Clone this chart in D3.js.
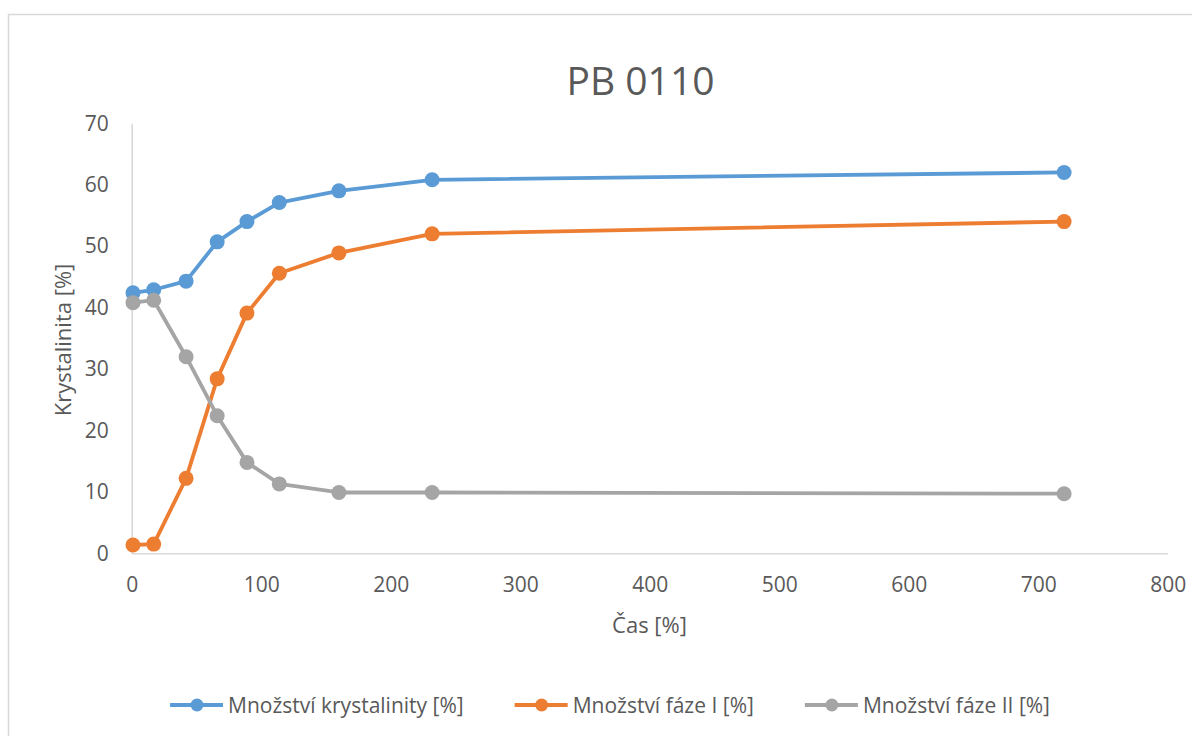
<!DOCTYPE html>
<html>
<head>
<meta charset="utf-8">
<script src="https://cdn.jsdelivr.net/npm/d3@7"></script>
<style>
  html, body { margin: 0; padding: 0; background: #fff; }
  svg { display: block; }
  text { font-family: "Open Sans", "Noto Sans", sans-serif; fill: #595959; }
</style>
</head>
<body>
<svg id="chart" width="1192" height="736"></svg>
<script>
// Time points (x) and the three measured series
const times = [1, 17, 42, 66, 89, 114, 160, 232, 720];
const krystalinita = [42.4, 42.9, 44.3, 50.7, 54.0, 57.1, 59.0, 60.8, 62.0];
const fazeI = [1.35, 1.5, 12.2, 28.4, 39.1, 45.6, 48.9, 52.0, 54.0];
const fazeII = [40.8, 41.2, 32.0, 22.4, 14.8, 11.3, 9.9, 9.9, 9.7];

const seriesNames = ["Množství krystalinity [%]", "Množství fáze I [%]", "Množství fáze II [%]"];
const seriesColors = ["#5B9BD5", "#ED7D31", "#A5A5A5"];
const xTicks = [0, 100, 200, 300, 400, 500, 600, 700, 800];
const yTicks = [0, 10, 20, 30, 40, 50, 60, 70];

const title = "PB 0110";
const xTitle = "Čas [%]";
const yTitle = "Krystalinita [%]";

const svg = d3.select("#chart");

// chart frame
svg.append("rect")
  .attr("x", 8.5).attr("y", 14.5)
  .attr("width", 1200).attr("height", 740)
  .attr("fill", "#fff").attr("stroke", "#D9D9D9").attr("stroke-width", 1.5);

const x = d3.scaleLinear().domain([0, 800]).range([131.7, 1167.7]);
const y = d3.scaleLinear().domain([0, 70]).range([553.3, 123.3]);

// axes
const xAxis = svg.append("g")
  .attr("transform", `translate(0,${y(0)})`)
  .call(d3.axisBottom(x).tickValues(xTicks).tickSize(0).tickPadding(24).tickFormat(d3.format("d")));
const yAxis = svg.append("g")
  .attr("transform", `translate(${x(0)},0)`)
  .call(d3.axisLeft(y).tickValues(yTicks).tickSize(0).tickPadding(23).tickFormat(d3.format("d")));

[xAxis, yAxis].forEach(g => {
  g.select(".domain").attr("stroke", "#D9D9D9").attr("stroke-width", 1.6);
  g.selectAll(".tick text")
    .attr("fill", "#595959")
    .style("font-family", '"Open Sans", sans-serif')
    .style("font-size", "21px");
});

// axis titles and chart title
svg.append("text")
  .attr("x", 649.5).attr("y", 633)
  .attr("text-anchor", "middle")
  .style("font-size", "22px")
  .text(xTitle);

svg.append("text")
  .attr("transform", "translate(71,340) rotate(-90)")
  .attr("text-anchor", "middle")
  .style("font-size", "22px")
  .text(yTitle);

svg.append("text")
  .attr("x", 640.5).attr("y", 95)
  .attr("text-anchor", "middle")
  .style("font-size", "39px")
  .text(title);

// series
const allSeries = [krystalinita, fazeI, fazeII].map((vals, i) => ({
  name: seriesNames[i],
  color: seriesColors[i],
  points: times.map((t, j) => ({ t, v: vals[j] }))
}));

const line = d3.line().x(d => x(d.t)).y(d => y(d.v));

const sg = svg.append("g").selectAll("g").data(allSeries).join("g");
sg.append("path")
  .attr("d", d => line(d.points))
  .attr("fill", "none")
  .attr("stroke", d => d.color)
  .attr("stroke-width", 3.8)
  .attr("stroke-linejoin", "round")
  .attr("stroke-linecap", "round");
sg.selectAll("circle")
  .data(d => d.points.map(p => ({ ...p, color: d.color })))
  .join("circle")
  .attr("cx", d => x(d.t))
  .attr("cy", d => y(d.v))
  .attr("r", 7.5)
  .attr("fill", d => d.color);

// legend
const legend = svg.append("g");
const items = legend.selectAll("g").data(allSeries).join("g");
items.append("line")
  .attr("x1", 0).attr("x2", 53).attr("y1", 0).attr("y2", 0)
  .attr("stroke", d => d.color).attr("stroke-width", 3.8);
items.append("circle")
  .attr("cx", 27).attr("cy", 0).attr("r", 6.5)
  .attr("fill", d => d.color);
items.append("text")
  .attr("x", 58).attr("y", 7.7)
  .style("font-size", "21px")
  .text(d => d.name);

let cursor = 0;
const gap = 51;
items.each(function () {
  const w = this.getBBox().width;
  d3.select(this).attr("data-w", w);
});
const widths = items.nodes().map(n => +n.getAttribute("data-w"));
const total = d3.sum(widths) + gap * (widths.length - 1);
const start = 610 - total / 2;
items.attr("transform", (d, i) => {
  const tx = start + cursor;
  cursor += widths[i] + gap;
  return `translate(${tx},705)`;
});
</script>
</body>
</html>
